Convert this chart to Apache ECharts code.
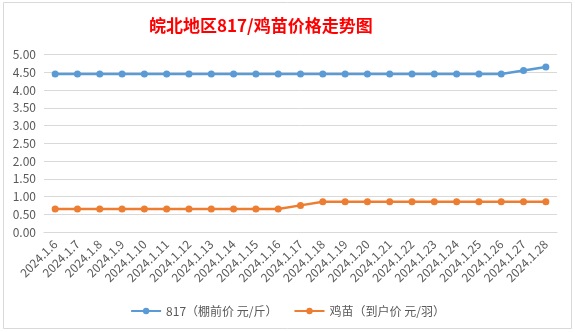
<!DOCTYPE html>
<html><head><meta charset="utf-8">
<script src="https://cdn.jsdelivr.net/npm/echarts@6/dist/echarts.min.js"></script>
<style>html,body{margin:0;padding:0;background:#fff}#c{width:575px;height:332px}</style>
</head><body><div id="c"></div>
<script>
const categories = ['2024.1.6','2024.1.7','2024.1.8','2024.1.9','2024.1.10','2024.1.11','2024.1.12','2024.1.13','2024.1.14','2024.1.15','2024.1.16','2024.1.17','2024.1.18','2024.1.19','2024.1.20','2024.1.21','2024.1.22','2024.1.23','2024.1.24','2024.1.25','2024.1.26','2024.1.27','2024.1.28'];
const price817 = [4.45,4.45,4.45,4.45,4.45,4.45,4.45,4.45,4.45,4.45,4.45,4.45,4.45,4.45,4.45,4.45,4.45,4.45,4.45,4.45,4.45,4.55,4.65];
const chickPrice = [0.65,0.65,0.65,0.65,0.65,0.65,0.65,0.65,0.65,0.65,0.65,0.75,0.85,0.85,0.85,0.85,0.85,0.85,0.85,0.85,0.85,0.85,0.85];
const seriesNames = ['817（棚前价 元/斤）','鸡苗（到户价 元/羽）'];
const titleText = '皖北地区817/鸡苗价格走势图';

const chart = echarts.init(document.getElementById('c'), null, {renderer:'canvas'});
const font = '"Noto Sans CJK SC", "Noto Sans", sans-serif';
chart.setOption({
  backgroundColor:'#fff',
  animation:false,
  textStyle:{fontFamily:font},
  graphic:[
    {type:'rect', shape:{x:3.5,y:2.5,width:568,height:326}, style:{fill:'none', stroke:'#d9d9d9', lineWidth:1}, z:-1}
  ],
  title:{text:titleText, left:144, top:12, textStyle:{color:'#FF0000', fontSize:17, fontWeight:'bold', fontFamily:font}},
  legend:{bottom:10, left:'center', itemWidth:30, itemHeight:8, itemGap:16,
    textStyle:{color:'#595959', fontSize:12, fontFamily:font}},
  grid:{left:44, right:18, top:54.5, bottom:100, containLabel:false},
  xAxis:{type:'category', data:categories, boundaryGap:true,
    axisLine:{show:true, lineStyle:{color:'#d9d9d9'}}, axisTick:{show:false},
    axisLabel:{rotate:45, interval:0, color:'#595959', fontSize:12, margin:10, fontFamily:font}},
  yAxis:{type:'value', min:0, max:5, interval:0.5,
    axisLine:{show:false}, axisTick:{show:false},
    splitLine:{lineStyle:{color:'#d9d9d9'}},
    axisLabel:{color:'#595959', fontSize:12, margin:8, formatter:v=>v.toFixed(2), fontFamily:font}},
  series:[
    {name:seriesNames[0], type:'line', data:price817, symbol:'circle', symbolSize:7,
      itemStyle:{color:'#5B9BD5'}, lineStyle:{width:2.5, color:'#5B9BD5'}},
    {name:seriesNames[1], type:'line', data:chickPrice, symbol:'circle', symbolSize:7,
      itemStyle:{color:'#ED7D31'}, lineStyle:{width:2.5, color:'#ED7D31'}}
  ]
});
</script></body></html>
